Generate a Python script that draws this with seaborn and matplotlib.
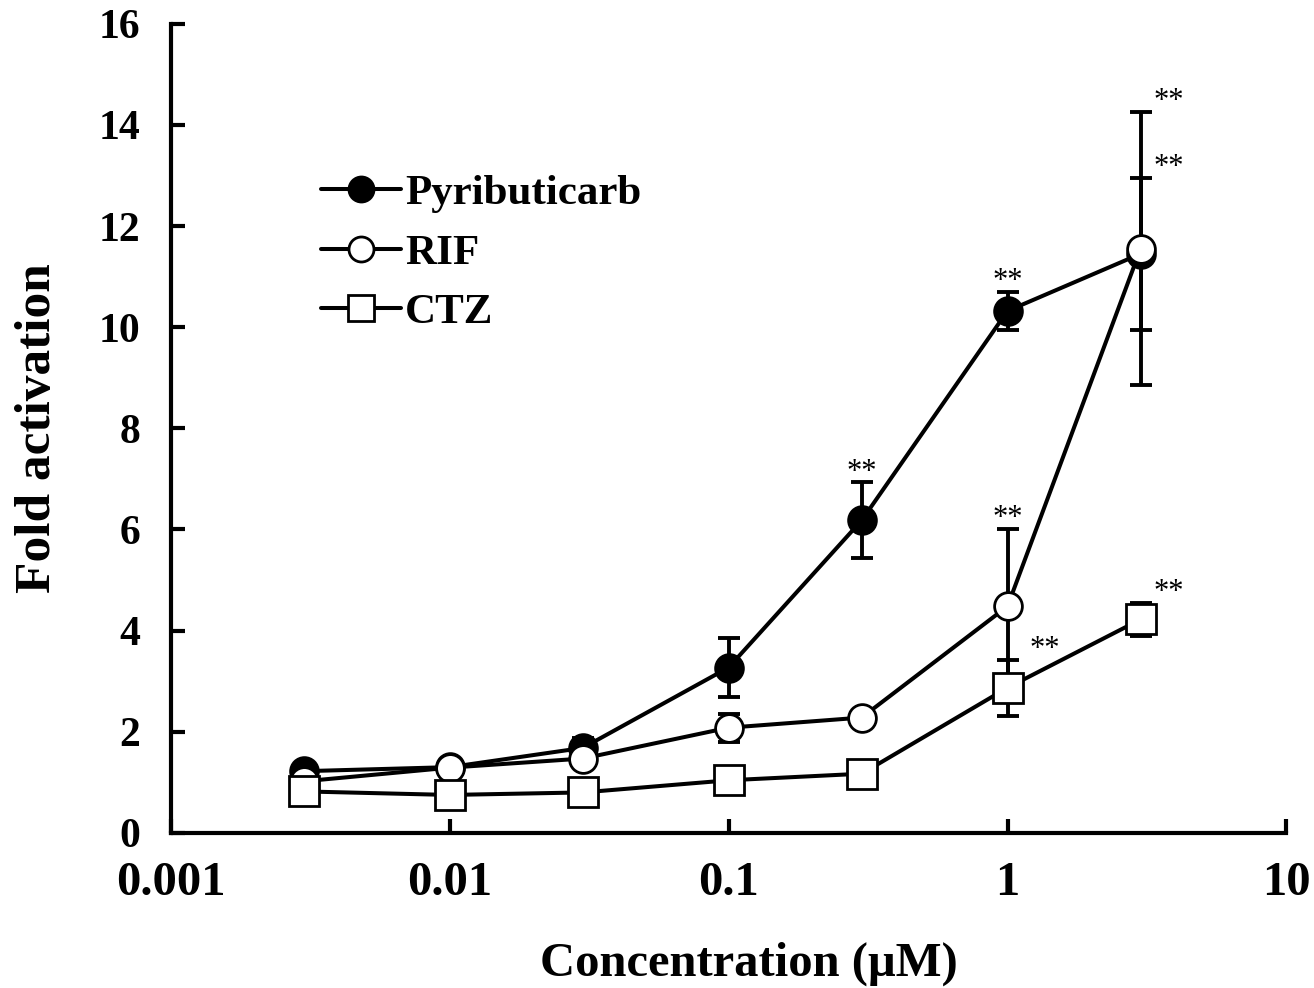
import matplotlib
matplotlib.use("Agg")
import matplotlib.pyplot as plt
import seaborn as sns
import numpy as np
import pandas as pd

# ---- data ----
conc = [0.003, 0.01, 0.03, 0.1, 0.3, 1, 3]
pyr_mean = [1.22, 1.30, 1.68, 3.27, 6.18, 10.32, 11.45]
pyr_err = [0.08, 0.05, 0.20, 0.58, 0.75, 0.38, 1.50]
rif_mean = [1.02, 1.29, 1.47, 2.08, 2.28, 4.48, 11.55]
rif_err = [0.05, 0.05, 0.10, 0.28, 0.05, 1.53, 2.70]
ctz_mean = [0.82, 0.75, 0.80, 1.04, 1.17, 2.87, 4.22]
ctz_err = [0.03, 0.03, 0.03, 0.05, 0.05, 0.55, 0.33]
series_names = ["Pyributicarb", "RIF", "CTZ"]
x_ticks = [0.001, 0.01, 0.1, 1, 10]
x_tick_labels = ["0.001", "0.01", "0.1", "1", "10"]
y_ticks = [0, 2, 4, 6, 8, 10, 12, 14, 16]
# significance marks: (series index, point index)
sig_marks = [(0, 4), (0, 5), (1, 5), (2, 5), (0, 6), (1, 6), (2, 6)]
sig_text = "**"

sns.set_theme(style="ticks")
plt.rcParams['font.family'] = ['Liberation Serif', 'DejaVu Serif']
plt.rcParams['text.color'] = 'black'
plt.rcParams['axes.labelcolor'] = 'black'
plt.rcParams['xtick.color'] = 'black'
plt.rcParams['ytick.color'] = 'black'

fig = plt.figure(figsize=(13.14, 9.88), dpi=100)
ax = fig.add_axes([0.130, 0.157, 0.849, 0.819])

means = [pyr_mean, rif_mean, ctz_mean]
errs = [pyr_err, rif_err, ctz_err]
markers = ["o", "o", "s"]
msizes = [20, 20, 21]
faces = ["black", "white", "white"]

for i, (name, m, e) in enumerate(zip(series_names, means, errs)):
    df = pd.DataFrame({"conc": conc, "val": m})
    ax.errorbar(conc, m, yerr=e, fmt="none", ecolor="black", elinewidth=2.8,
                capsize=8, capthick=2.8, zorder=2 + i * 2)
    sns.lineplot(data=df, x="conc", y="val", ax=ax, color="black", linewidth=2.9,
                 marker=markers[i], markersize=msizes[i],
                 markerfacecolor=faces[i], markeredgecolor="black",
                 markeredgewidth=2.0, label=name, zorder=3 + i * 2)

ax.set_xscale("log")
ax.set_xlim(0.001, 10)
ax.set_ylim(0, 16)
ax.set_xticks(x_ticks)
ax.set_xticklabels(x_tick_labels)
ax.set_yticks(y_ticks)
ax.minorticks_off()
ax.xaxis.set_minor_locator(matplotlib.ticker.NullLocator())

for s in ["top", "right"]:
    ax.spines[s].set_visible(False)
for s in ["left", "bottom"]:
    ax.spines[s].set_linewidth(3)
    ax.spines[s].set_color("black")

ax.tick_params(axis="both", direction="in", length=10, width=3, color="black")
ax.tick_params(axis="x", pad=20, labelsize=35)
ax.tick_params(axis="y", pad=22, labelsize=30)
for lab in ax.get_xticklabels() + ax.get_yticklabels():
    lab.set_fontweight("bold")

ax.set_xlabel("Concentration (\u03bcM)", fontsize=35, fontweight="bold", labelpad=26)
ax.xaxis.set_label_coords(0.518, -0.134)
ax.set_ylabel("Fold activation", fontsize=37, fontweight="bold", labelpad=27)

# significance stars
for si, pi in sig_marks:
    x = conc[pi]
    y = means[si][pi] + errs[si][pi]
    dx = 0
    if pi == 6:
        dx = 20
    if si == 2 and pi == 5:
        dx = 27
    ax.annotate(sig_text, (x, y), xytext=(dx, -3), textcoords="offset points",
                ha="center", va="bottom", fontsize=22, color="black")

leg = ax.legend(loc="upper left", bbox_to_anchor=(0.10, 0.862), frameon=False,
                fontsize=31, handlelength=1.85, handletextpad=0.1,
                labelspacing=0.47, markerscale=0.9)
for t in leg.get_texts():
    t.set_fontweight("bold")

fig.savefig("out.png", dpi=100)
